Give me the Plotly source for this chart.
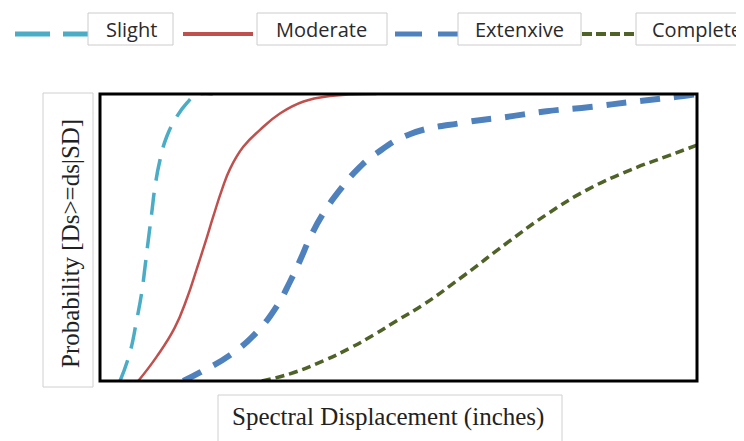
import plotly.graph_objects as go

# Data (x in % of displayed displacement range, y = probability of exceedance)
slight_x = [3.35, 5.0, 6.15, 6.98, 7.54, 8.09, 8.66, 9.21, 10.05, 11.17, 12.85, 14.52, 16.2, 18.9]
slight_y = [0.0, 0.098, 0.213, 0.307, 0.397, 0.491, 0.585, 0.676, 0.77, 0.851, 0.921, 0.968, 0.997, 1.0]

moderate_x = [6.4, 9.5, 12.5, 14.6, 16.2, 17.6, 19.0, 20.4, 21.8, 24.0, 26.8, 30.2, 34.1, 38.5, 46.3]
moderate_y = [0.0, 0.085, 0.185, 0.29, 0.39, 0.48, 0.575, 0.665, 0.74, 0.816, 0.875, 0.933, 0.974, 0.993, 1.0]

extensive_x = [13.95, 16.75, 21.78, 26.25, 29.6, 31.8, 33.5, 35.2, 37.4, 40.2, 43.0, 46.3, 51.9, 60.8, 68.1, 74.8, 82.1, 89.3, 96.6, 100.0]
extensive_y = [0.0, 0.03, 0.09, 0.17, 0.26, 0.345, 0.42, 0.50, 0.584, 0.666, 0.735, 0.793, 0.86, 0.90, 0.92, 0.94, 0.955, 0.973, 0.99, 1.0]

complete_x = [27.1, 31.8, 37.4, 41.9, 45.8, 49.7, 54.1, 60.8, 68.1, 74.8, 81.5, 88.8, 95.5, 100.0]
complete_y = [0.0, 0.025, 0.07, 0.115, 0.16, 0.21, 0.265, 0.365, 0.48, 0.58, 0.665, 0.735, 0.787, 0.822]

names = ["Slight", "Moderate", "Extenxive", "Complete"]
colors = ["#4bacc6", "#c0504d", "#4f81bd", "#4f6228"]
widths = [3.5, 2.5, 6, 3.5]
dashes = ["22px,12px", "solid", "20px,14px", "9px,5px"]

# Page is offset by the 8px body margin
OFF = 8
W, H = 744 - OFF, 441 - OFF
L, R, T, B = 100, 697, 94, 381   # plot area in screenshot pixels


def px(x):
    return (x - L) / (R - L)


def py(y):
    return (B - y) / (B - T)


fig = go.Figure()
series = [(slight_x, slight_y), (moderate_x, moderate_y),
          (extensive_x, extensive_y), (complete_x, complete_y)]
for (xs, ys), n, c, w, d in zip(series, names, colors, widths, dashes):
    fig.add_trace(go.Scatter(x=xs, y=ys, mode="lines", name=n,
                             line=dict(color=c, width=w, dash=d, shape="spline", smoothing=1.3),
                             showlegend=False, hoverinfo="skip"))

shapes = []
# plot frame
shapes.append(dict(type="rect", xref="paper", yref="paper", x0=0, x1=1, y0=0, y1=1,
                   line=dict(color="black", width=3), layer="above"))

# manual legend samples
leg_y = 34
samples = [(15, 88, "35px,13px", 5), (183, 253, "solid", 4), (395, 458, "27px,16px", 5), (582, 636, "10px,4px", 4)]
for (a, b, d, w), c in zip(samples, colors):
    shapes.append(dict(type="line", xref="paper", yref="paper", x0=px(a), x1=px(b),
                       y0=py(leg_y), y1=py(leg_y), line=dict(color=c, width=w, dash=d)))

# legend label boxes
boxes = [(88, 173), (257, 387), (458, 581), (636, 760)]
for a, b in boxes:
    shapes.append(dict(type="rect", xref="paper", yref="paper", x0=px(a), x1=px(b),
                       y0=py(45), y1=py(13), line=dict(color="#cccccc", width=1),
                       fillcolor="white"))
# axis title boxes
shapes.append(dict(type="rect", xref="paper", yref="paper", x0=px(43), x1=px(93),
                   y0=py(387), y1=py(93), line=dict(color="#d0d0d0", width=1), fillcolor="white"))
shapes.append(dict(type="rect", xref="paper", yref="paper", x0=px(218), x1=px(562),
                   y0=py(445), y1=py(395), line=dict(color="#d0d0d0", width=1), fillcolor="white"))

annotations = []
label_cx = [131, 321, 519, 697]
for cx, n in zip(label_cx, names):
    annotations.append(dict(x=px(cx), y=py(29), xref="paper", yref="paper", text=n,
                            showarrow=False, font=dict(family="Open Sans", size=20, color="#2a2a2a"),
                            xanchor="center", yanchor="middle"))
annotations.append(dict(x=px(71), y=py(244), xref="paper", yref="paper",
                        text="Probability [Ds&gt;=ds|SD]", textangle=-90, showarrow=False,
                        font=dict(family="Liberation Serif", size=25, color="#222222"),
                        xanchor="center", yanchor="middle"))
annotations.append(dict(x=px(388), y=py(417), xref="paper", yref="paper",
                        text="Spectral Displacement (inches)", showarrow=False,
                        font=dict(family="Liberation Serif", size=25, color="#222222"),
                        xanchor="center", yanchor="middle"))

fig.update_layout(
    width=W, height=H,
    margin=dict(l=L - OFF, r=744 - R, t=T - OFF, b=441 - B, pad=0),
    paper_bgcolor="white", plot_bgcolor="white",
    xaxis=dict(range=[0, 100], visible=False, fixedrange=True),
    yaxis=dict(range=[0, 1], visible=False, fixedrange=True),
    shapes=shapes, annotations=annotations,
    showlegend=False,
)

fig.write_html("out.html")
